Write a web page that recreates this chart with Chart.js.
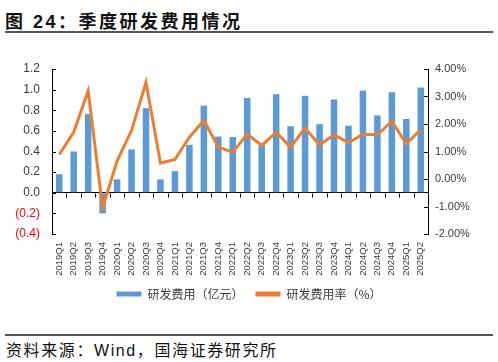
<!DOCTYPE html>
<html>
<head>
<meta charset="utf-8">
<script src="https://cdn.jsdelivr.net/npm/chart.js@4"></script>
<style>
  body { margin: 0; background: #fff; width: 498px; height: 362px; position: relative; overflow: hidden; }
  .title { position: absolute; left: 5px; top: 7px; font: bold 18px "Liberation Sans", "Noto Sans CJK SC", sans-serif; letter-spacing: 2.5px; color: #111; white-space: nowrap; }
  .rule { position: absolute; left: 5px; width: 488px; height: 1.5px; background: #555; }
  .source { position: absolute; left: 6px; top: 337px; font: 16px "Liberation Sans", "Noto Sans CJK SC", sans-serif; letter-spacing: 1.6px; color: #111; white-space: nowrap; }
  #chart { position: absolute; left: 0; top: 40px; }
</style>
</head>
<body>
<div class="title">图 24：季度研发费用情况</div>
<div class="rule" style="top:31px"></div>
<canvas id="chart" width="498" height="270"></canvas>
<div class="rule" style="top:334px"></div>
<div class="source">资料来源：Wind，国海证券研究所</div>
<script>
// 季度
const quarters = ['2019Q1', '2019Q2', '2019Q3', '2019Q4', '2020Q1', '2020Q2', '2020Q3', '2020Q4',
    '2021Q1', '2021Q2', '2021Q3', '2021Q4', '2022Q1', '2022Q2', '2022Q3', '2022Q4',
    '2023Q1', '2023Q2', '2023Q3', '2023Q4', '2024Q1', '2024Q2', '2024Q3', '2024Q4',
    '2025Q1', '2025Q2'];

// 研发费用（亿元）
const rdExpense = [0.18, 0.40, 0.765, -0.20, 0.13, 0.42, 0.82, 0.13,
    0.21, 0.465, 0.845, 0.545, 0.54, 0.92, 0.46, 0.955,
    0.645, 0.94, 0.665, 0.905, 0.65, 0.99, 0.75, 0.975,
    0.715, 1.02];

// 研发费用率（%）
const rdRate = [0.89, 1.70, 3.21, -1.04, 0.65, 1.77, 3.51, 0.58,
    0.71, 1.52, 2.13, 1.16, 0.97, 1.63, 1.22, 1.70,
    1.16, 1.85, 1.24, 1.61, 1.32, 1.63, 1.61, 2.10,
    1.28, 1.80];

const textColor = '#3a3a3a';

// 轴上的短刻度线（向内）以及零线下方的分类刻度
const axisTicks = {
    id: 'axisTicks',
    afterDatasetsDraw(chart) {
        const { ctx, scales } = chart;
        const x = scales.x, y = scales.y, y1 = scales.y1;
        ctx.save();
        ctx.strokeStyle = '#000';
        ctx.lineWidth = 1;
        ctx.beginPath();
        y.ticks.forEach(function(t, i) {
            const py = Math.round(y.getPixelForTick(i)) + 0.5;
            ctx.moveTo(y.right, py);
            ctx.lineTo(y.right + 4, py);
        });
        y1.ticks.forEach(function(t, i) {
            const py = Math.round(y1.getPixelForTick(i)) + 0.5;
            ctx.moveTo(y1.left, py);
            ctx.lineTo(y1.left - 4, py);
        });
        const zy = Math.round(y.getPixelForValue(0)) + 0.5;
        for (let i = 1; i <= quarters.length; i++) {
            const px = Math.round(x.getPixelForValue(i - 0.5)) + 0.5;
            ctx.moveTo(px, zy);
            ctx.lineTo(px, zy + 4);
        }
        ctx.stroke();
        ctx.restore();
    }
};

new Chart(document.getElementById('chart'), {
    type: 'bar',
    data: {
        labels: quarters,
        datasets: [{
            label: '研发费用（亿元）',
            data: rdExpense,
            backgroundColor: '#5B9BD5',
            borderWidth: 0,
            categoryPercentage: 1,
            barPercentage: 0.45,
            yAxisID: 'y'
        }, {
            type: 'line',
            label: '研发费用率（%）',
            data: rdRate,
            borderColor: '#ED7D31',
            backgroundColor: '#ED7D31',
            borderWidth: 3,
            pointRadius: 0,
            tension: 0,
            order: -1,
            yAxisID: 'y1'
        }]
    },
    options: {
        responsive: false,
        animation: false,
        layout: { padding: { top: 29, left: 0, right: 0, bottom: 0 } },
        plugins: {
            tooltip: { enabled: false },
            legend: {
                position: 'bottom',
                labels: {
                    boxWidth: 25,
                    boxHeight: 5,
                    padding: 12,
                    color: textColor,
                    font: { family: '"Noto Sans CJK SC", sans-serif', size: 12 },
                    sort: function(a, b) { return a.datasetIndex - b.datasetIndex; },
                    generateLabels: function(chart) {
                        return Chart.defaults.plugins.legend.labels.generateLabels(chart).map(function(l) {
                            l.lineWidth = 0;
                            return l;
                        });
                    }
                }
            }
        },
        scales: {
            x: {
                grid: { display: false, drawTicks: false },
                border: { display: false },
                ticks: {
                    autoSkip: false,
                    minRotation: 90,
                    maxRotation: 90,
                    padding: 8,
                    color: textColor,
                    font: { family: '"Liberation Sans", sans-serif', size: 9.5 }
                },
                afterFit: function(scale) { scale.height = 42; }
            },
            y: {
                position: 'left',
                min: -0.4,
                max: 1.2,
                ticks: {
                    stepSize: 0.2,
                    padding: 12,
                    font: { family: '"Liberation Sans", sans-serif', size: 12 },
                    color: function(ctx) { return ctx.tick.value < -1e-9 ? '#ff0000' : textColor; },
                    callback: function(v) {
                        if (Math.abs(v) < 1e-9) return '0.0';
                        return v < 0 ? '(' + Math.abs(v).toFixed(1) + ')' : v.toFixed(1);
                    }
                },
                grid: {
                    drawTicks: false,
                    color: function(ctx) { return ctx.tick && Math.abs(ctx.tick.value) < 1e-9 ? '#000' : 'rgba(0,0,0,0)'; }
                },
                border: { display: true, color: '#000', width: 1 },
                afterFit: function(scale) { scale.width = 52; }
            },
            y1: {
                position: 'right',
                min: -2,
                max: 4,
                ticks: {
                    stepSize: 1,
                    padding: 7,
                    color: textColor,
                    font: { family: '"Liberation Sans", sans-serif', size: 11 },
                    callback: function(v) { return v.toFixed(2) + '%'; }
                },
                grid: { display: false, drawTicks: false },
                border: { display: true, color: '#000', width: 1 },
                afterFit: function(scale) { scale.width = 70; }
            }
        }
    },
    plugins: [axisTicks]
});
</script>
</body>
</html>
